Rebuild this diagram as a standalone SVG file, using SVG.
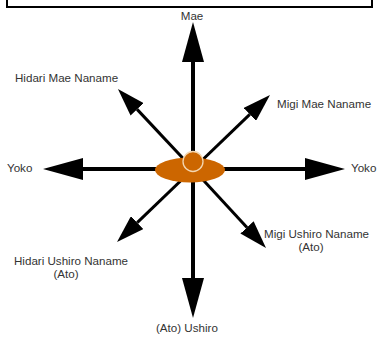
<svg xmlns="http://www.w3.org/2000/svg" width="377" height="338" viewBox="0 0 377 338">
<style>
text{font-family:"Liberation Sans",Arial,sans-serif;font-size:11.6px;fill:#333}
.ax{stroke:#000;stroke-width:4;fill:none}
.dg{stroke:#000;stroke-width:3;fill:none}
</style>
<defs>
<marker id="big" viewBox="0 0 40 22" refX="0" refY="11" markerWidth="40" markerHeight="22" markerUnits="userSpaceOnUse" orient="auto"><path d="M0,0 L40,11 L0,22 z" fill="#000"/></marker>
<marker id="small" viewBox="0 0 28 18" refX="0" refY="9" markerWidth="28" markerHeight="18" markerUnits="userSpaceOnUse" orient="auto"><path d="M0,0 L28,9 L0,18 z" fill="#000"/></marker>
</defs>
<path d="M7,0 V7 H372 V0" fill="none" stroke="#000" stroke-width="2"/>
<g id="connectors">
<line class="ax" x1="193" y1="169" x2="193" y2="62" marker-end="url(#big)"/>
<line class="ax" x1="193" y1="169" x2="193" y2="278" marker-end="url(#big)"/>
<line class="ax" x1="193" y1="169" x2="83" y2="169" marker-end="url(#big)"/>
<line class="ax" x1="193" y1="169" x2="305" y2="169" marker-end="url(#big)"/>
<line class="dg" x1="193" y1="169" x2="137.1" y2="109.4" marker-end="url(#small)"/>
<line class="dg" x1="193" y1="169" x2="249.8" y2="114.4" marker-end="url(#small)"/>
<line class="dg" x1="193" y1="169" x2="137.2" y2="222.6" marker-end="url(#small)"/>
<line class="dg" x1="193" y1="169" x2="247" y2="227.4" marker-end="url(#small)"/>
</g>
<g id="center">
<ellipse cx="190" cy="170" rx="35" ry="12.5" fill="#CC6600"/>
<circle cx="193" cy="161.5" r="10" fill="#CC6600" stroke="#F3D6B0" stroke-width="1.3"/>
</g>
<g id="mae"><text x="192" y="20" text-anchor="middle">Mae</text></g>
<g id="hidari-mae"><text x="15" y="82">Hidari Mae Naname</text></g>
<g id="migi-mae"><text x="277" y="108">Migi Mae Naname</text></g>
<g id="yoko-left"><text x="7" y="172">Yoko</text></g>
<g id="yoko-right"><text x="351" y="172">Yoko</text></g>
<g id="hidari-ushiro"><text x="14" y="265">Hidari Ushiro Naname</text><text x="66" y="278" text-anchor="middle">(Ato)</text></g>
<g id="migi-ushiro"><text x="264" y="238">Migi Ushiro Naname</text><text x="311" y="251" text-anchor="middle">(Ato)</text></g>
<g id="ushiro"><text x="156" y="332">(Ato) Ushiro</text></g>
</svg>
